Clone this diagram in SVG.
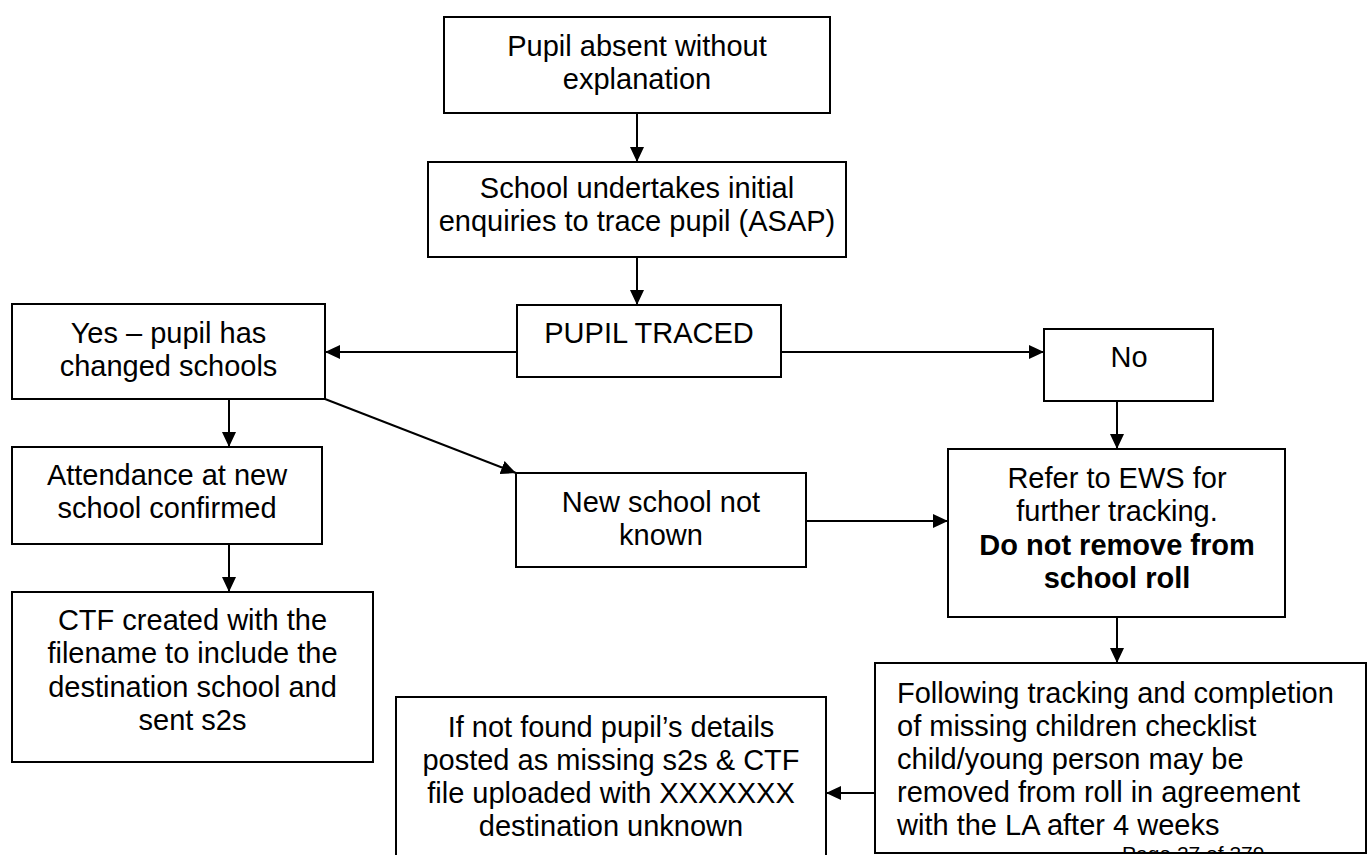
<svg xmlns="http://www.w3.org/2000/svg" width="1370" height="855" viewBox="0 0 1370 855">
  <style>
    .box { fill: #ffffff; stroke: #000000; stroke-width: 2; }
    .t { font-family: "Liberation Sans", Arial, sans-serif; font-size: 29px; fill: #000000; }
    .c { text-anchor: middle; }
    .b { font-weight: bold; }
    .edge { fill: none; stroke: #000000; stroke-width: 2; marker-end: url(#arrow); }
    .page { font-family: "Liberation Sans", Arial, sans-serif; font-size: 21px; fill: #000000; }
  </style>
  <defs>
    <marker id="arrow" markerUnits="userSpaceOnUse" markerWidth="16" markerHeight="14" refX="15" refY="7" orient="auto">
      <path d="M0,0 L15,7 L0,14 z" fill="#000000"/>
    </marker>
    <clipPath id="pageClip">
      <rect x="0" y="0" width="1370" height="852"/>
    </clipPath>
  </defs>
  <rect x="0" y="0" width="1370" height="855" fill="#ffffff"/>

  <!-- connectors -->
  <g id="connectors">
    <line class="edge" x1="637" y1="113" x2="637" y2="162"/>
    <line class="edge" x1="637" y1="257" x2="637" y2="305"/>
    <line class="edge" x1="517" y1="352" x2="325" y2="352"/>
    <line class="edge" x1="781" y1="352" x2="1044" y2="352"/>
    <line class="edge" x1="229" y1="399" x2="229" y2="447"/>
    <line class="edge" x1="229" y1="544" x2="229" y2="592"/>
    <line class="edge" x1="325" y1="399" x2="516" y2="473"/>
    <line class="edge" x1="806" y1="521" x2="948" y2="521"/>
    <line class="edge" x1="1117" y1="401" x2="1117" y2="449"/>
    <line class="edge" x1="1117" y1="617" x2="1117" y2="663"/>
    <line class="edge" x1="875" y1="793" x2="826" y2="793"/>
  </g>

  <g id="absent">
    <rect class="box" x="444" y="17" width="386" height="96"/>
    <text class="t c" x="637" y="56">Pupil absent without</text>
    <text class="t c" x="637" y="89">explanation</text>
  </g>

  <g id="enquiries">
    <rect class="box" x="428" y="162" width="418" height="95"/>
    <text class="t c" x="637" y="198">School undertakes initial</text>
    <text class="t c" x="637" y="231">enquiries to trace pupil (ASAP)</text>
  </g>

  <g id="traced">
    <rect class="box" x="517" y="305" width="264" height="72"/>
    <text class="t c" x="649" y="343">PUPIL TRACED</text>
  </g>

  <g id="yes">
    <rect class="box" x="12" y="304" width="313" height="95"/>
    <text class="t c" x="168.5" y="343">Yes – pupil has</text>
    <text class="t c" x="168.5" y="376">changed schools</text>
  </g>

  <g id="no">
    <rect class="box" x="1044" y="329" width="169" height="72"/>
    <text class="t c" x="1129" y="367">No</text>
  </g>

  <g id="attendance">
    <rect class="box" x="12" y="447" width="310" height="97"/>
    <text class="t c" x="167" y="485">Attendance at new</text>
    <text class="t c" x="167" y="518">school confirmed</text>
  </g>

  <g id="ctf">
    <rect class="box" x="12" y="592" width="361" height="170"/>
    <text class="t c" x="192.5" y="630">CTF created with the</text>
    <text class="t c" x="192.5" y="663">filename to include the</text>
    <text class="t c" x="192.5" y="697">destination school and</text>
    <text class="t c" x="192.5" y="730">sent s2s</text>
  </g>

  <g id="unknown-school">
    <rect class="box" x="516" y="473" width="290" height="94"/>
    <text class="t c" x="661" y="512">New school not</text>
    <text class="t c" x="661" y="545">known</text>
  </g>

  <g id="ews">
    <rect class="box" x="948" y="449" width="337" height="168"/>
    <text class="t c" x="1117" y="488">Refer to EWS for</text>
    <text class="t c" x="1117" y="521">further tracking.</text>
    <text class="t c b" x="1117" y="555">Do not remove from</text>
    <text class="t c b" x="1117" y="588">school roll</text>
  </g>

  <g id="removal">
    <rect class="box" x="875" y="663" width="491" height="190"/>
    <text class="t" x="897" y="703">Following tracking and completion</text>
    <text class="t" x="897" y="736">of missing children checklist</text>
    <text class="t" x="897" y="769">child/young person may be</text>
    <text class="t" x="897" y="802">removed from roll in agreement</text>
    <text class="t" x="897" y="835">with the LA after 4 weeks</text>
    <text class="page" x="1122" y="861" clip-path="url(#pageClip)">Page 27 of 379</text>
  </g>

  <g id="not-found">
    <path class="box" d="M396,870 L396,697 L826,697 L826,870"/>
    <text class="t c" x="611" y="737">If not found pupil’s details</text>
    <text class="t c" x="611" y="770">posted as missing s2s &amp; CTF</text>
    <text class="t c" x="611" y="803">file uploaded with XXXXXXX</text>
    <text class="t c" x="611" y="836">destination unknown</text>
  </g>
</svg>
